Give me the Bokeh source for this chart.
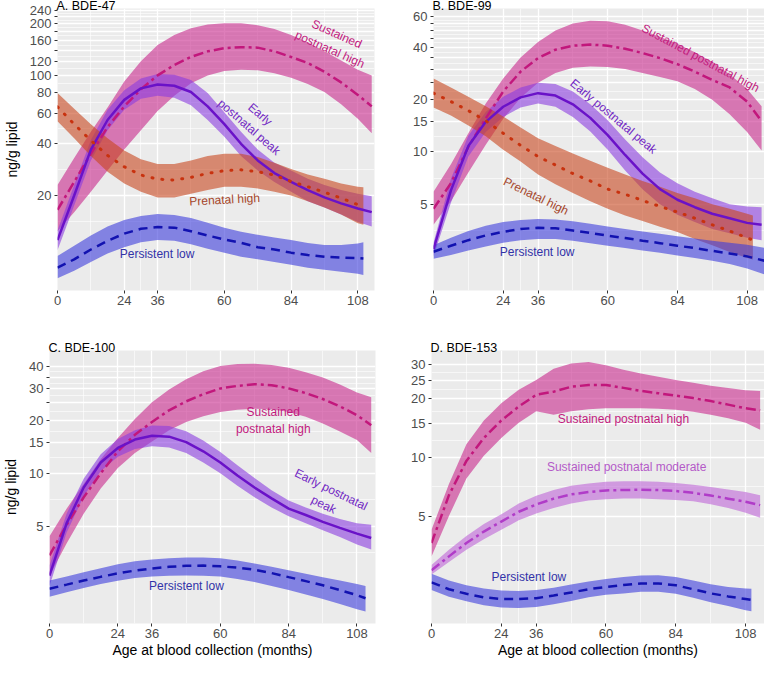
import math
from bokeh.plotting import figure
from bokeh.models import FixedTicker, Range1d
from bokeh.layouts import column, row
from bokeh.core.properties import value
from bokeh.embed import file_html
from bokeh.resources import INLINE

FONT = "Liberation Sans"
MONTHS = [0, 6, 12, 18, 24, 30, 36, 42, 48, 54, 60, 66, 72, 78, 84, 90, 96, 102, 108]
X_TICKS = [0, 24, 36, 60, 84, 108]

# ---------------- Panel A: BDE-47 ----------------
A_HIGH_END = 113
A_high_mid = [16.5, 24, 35, 50, 66, 83, 100, 115, 128, 138, 144, 146, 145, 138, 128, 118, 105, 91, 77, 66]
A_high_hi = [23, 33, 47, 65, 92, 121, 150, 172, 188, 198, 201, 201, 196, 186, 172, 156, 138, 122, 108, 100]
A_high_lo = [12.4, 16, 21, 28, 37, 48, 62, 76, 90, 100, 106, 108, 107, 103, 97, 89, 80, 68, 56, 46]
A_EARLY_END = 113
A_early_mid = [11, 20, 37, 55, 72, 84, 88.5, 87, 80, 66, 52, 40, 32, 27, 24, 21.5, 19.5, 18, 16.8, 16]
A_early_hi = [12.5, 23, 42, 63, 82, 96, 102, 101, 94, 79, 61, 47, 37, 31, 28, 25, 23, 21.5, 20.5, 19.8]
A_early_lo = [9.6, 17.5, 32, 48, 63, 73, 76, 74, 67, 55, 44, 34, 28, 24, 21, 18.5, 17, 15.5, 14, 13.2]
A_PRE_END = 110
A_pre_mid = [65.6, 52, 41.8, 34.2, 29.4, 26.3, 24.9, 24.6, 25.5, 26.9, 27.9, 28.2, 27.5, 26.3, 24.1, 22.5, 20.9, 19.3, 17.7, 17.2]
A_pre_hi = [79, 64, 52, 43, 36.5, 32.5, 30.5, 30.5, 32, 34, 35, 35, 33.5, 31, 28.5, 26.5, 25, 23.5, 22.5, 22.3]
A_pre_lo = [54, 43, 34, 27.5, 23.5, 21, 19.5, 19.5, 20.5, 21.5, 22.5, 22.5, 22, 21, 20, 18.5, 17, 15.5, 13.8, 13.5]
A_LOW_END = 110
A_low_mid = [7.6, 8.5, 9.7, 10.9, 12.0, 12.8, 13.1, 13.0, 12.4, 11.7, 11.1, 10.6, 10.0, 9.7, 9.3, 9.0, 8.8, 8.7, 8.65, 8.6]
A_low_hi = [8.9, 10.2, 11.7, 13.2, 14.4, 15.2, 15.6, 15.4, 14.8, 13.9, 13.0, 12.3, 11.8, 11.4, 11.0, 10.6, 10.3, 10.3, 10.5, 10.7]
A_low_lo = [6.6, 7.3, 8.2, 9.2, 10.0, 10.7, 11.0, 10.9, 10.4, 9.8, 9.3, 8.8, 8.5, 8.2, 7.9, 7.6, 7.4, 7.2, 7.0, 6.9]
A_Y_BREAKS = [20, 40, 60, 80, 100, 120, 140, 160, 180, 200, 220, 240]
A_Y_SHOWN = [20, 40, 60, 80, 100, 120, 160, 200, 240]

# ---------------- Panel B: BDE-99 ----------------
B_HIGH_END = 113
B_high_mid = [4.7, 6.6, 10.7, 15.6, 22.3, 29, 34.7, 38.8, 40.9, 41.5, 40.9, 39.3, 37.1, 34.7, 32, 29, 26, 23.5, 19.5, 15]
B_high_hi = [5.9, 8.5, 12.8, 19, 26.5, 35, 43, 50, 55, 57, 56.5, 54, 50, 46, 42, 37.5, 33, 28, 23, 18.3]
B_high_lo = [3.8, 5.2, 7.6, 11, 15.5, 20.5, 25, 28.5, 30.5, 31, 30.8, 30, 28.5, 27, 25.5, 23, 20, 16.5, 13, 10.2]
B_EARLY_END = 113
B_early_mid = [2.75, 6.0, 10.8, 14.9, 18.2, 20.6, 21.8, 21.1, 18.8, 15.7, 12.5, 9.6, 7.5, 6.1, 5.3, 4.8, 4.4, 4.15, 3.9, 3.8]
B_early_hi = [3.0, 7.0, 12.4, 17, 20.8, 23.5, 25, 24.6, 22.3, 18.8, 15.2, 11.8, 9.3, 7.6, 6.6, 5.9, 5.4, 5.0, 4.85, 4.8]
B_early_lo = [2.5, 5.1, 9.4, 13, 15.9, 18, 19, 18.2, 15.9, 13.1, 10.3, 7.8, 6.1, 5.0, 4.35, 3.95, 3.6, 3.4, 3.2, 3.1]
B_PRE_END = 110
B_pre_mid = [21.8, 19.5, 17.3, 15.1, 12.8, 10.9, 9.4, 8.4, 7.5, 6.8, 6.1, 5.7, 5.25, 4.85, 4.5, 4.15, 3.8, 3.5, 3.2, 3.1]
B_pre_hi = [26.5, 23.5, 20.8, 18.3, 16, 13.8, 12, 10.8, 9.8, 8.9, 8.1, 7.4, 6.8, 6.3, 5.8, 5.4, 5.0, 4.7, 4.4, 4.3]
B_pre_lo = [18, 16.2, 14.2, 12.3, 10.3, 8.8, 7.4, 6.5, 5.8, 5.2, 4.7, 4.3, 4.0, 3.7, 3.45, 3.15, 2.9, 2.65, 2.45, 2.4]
B_LOW_END = 114
B_low_mid = [2.66, 2.88, 3.1, 3.3, 3.46, 3.6, 3.65, 3.63, 3.52, 3.41, 3.29, 3.19, 3.08, 2.98, 2.88, 2.79, 2.69, 2.6, 2.5, 2.36]
B_low_hi = [2.9, 3.2, 3.5, 3.75, 3.95, 4.05, 4.1, 4.08, 3.98, 3.85, 3.72, 3.6, 3.48, 3.37, 3.27, 3.17, 3.08, 3.0, 2.92, 2.8]
B_low_lo = [2.42, 2.55, 2.7, 2.85, 3.0, 3.1, 3.15, 3.15, 3.08, 2.98, 2.88, 2.79, 2.7, 2.62, 2.53, 2.45, 2.36, 2.26, 2.13, 1.97]
B_Y_BREAKS = [5, 10, 15, 20, 25, 30, 35, 40, 45, 50, 55, 60]
B_Y_SHOWN = [5, 10, 15, 20, 40, 60]

# ---------------- Panel C: BDE-100 ----------------
C_HIGH_END = 113
C_high_mid = [3.43, 5.1, 7.3, 10, 13.3, 16.5, 19.5, 22.7, 25.5, 28, 30.2, 31.2, 31.9, 31.5, 30.2, 28.4, 26.3, 23.9, 21.3, 18.7]
C_high_hi = [4.4, 6.3, 8.7, 12, 15.8, 20.3, 25.2, 29.8, 34, 37.8, 40.4, 41.5, 41.7, 41, 39.5, 37.3, 34.8, 31.8, 28.6, 26.9]
C_high_lo = [2.63, 4.0, 5.9, 8.2, 10.7, 13, 15.1, 17.5, 19.5, 21, 22.2, 22.9, 23.2, 23.0, 22.2, 20.9, 19.1, 17.2, 15.4, 13.0]
C_EARLY_END = 113
C_early_mid = [2.63, 5.2, 8.3, 11.5, 13.9, 15.5, 16.3, 16.1, 15, 13.3, 11.5, 9.7, 8.3, 7.2, 6.3, 5.8, 5.3, 4.9, 4.55, 4.3]
C_early_hi = [3.0, 5.9, 9.3, 12.8, 15.6, 17.5, 18.6, 18.5, 17.3, 15.3, 13.2, 11.1, 9.4, 8.0, 7.0, 6.4, 5.9, 5.5, 5.2, 5.1]
C_early_lo = [2.3, 4.6, 7.4, 10.3, 12.4, 13.7, 14.2, 14.0, 13.0, 11.5, 10.0, 8.5, 7.3, 6.4, 5.7, 5.2, 4.75, 4.35, 3.95, 3.7]
C_LOW_END = 111
C_low_mid = [2.22, 2.34, 2.47, 2.59, 2.71, 2.81, 2.89, 2.95, 2.99, 3.0, 2.97, 2.92, 2.84, 2.72, 2.58, 2.45, 2.32, 2.18, 2.04, 1.96]
C_low_hi = [2.47, 2.6, 2.75, 2.9, 3.05, 3.17, 3.25, 3.3, 3.33, 3.33, 3.3, 3.2, 3.08, 2.95, 2.82, 2.7, 2.58, 2.47, 2.36, 2.3]
C_low_lo = [2.0, 2.12, 2.24, 2.36, 2.46, 2.55, 2.6, 2.63, 2.64, 2.63, 2.6, 2.52, 2.42, 2.3, 2.18, 2.06, 1.94, 1.82, 1.7, 1.65]
C_Y_BREAKS = [5, 10, 15, 20, 25, 30, 35, 40]
C_Y_SHOWN = [5, 10, 15, 20, 30, 40]

# ---------------- Panel D: BDE-153 ----------------
D_HIGH_END = 113
D_high_mid = [3.63, 6.4, 9.6, 12.6, 15.5, 18.3, 21, 21.8, 23.1, 23.6, 23.6, 22.8, 22, 21.4, 20.8, 20.2, 19.5, 18.7, 17.9, 17.5]
D_high_hi = [4.25, 7.3, 11.7, 15.5, 19, 22.3, 25, 28.6, 30.4, 31, 29.8, 28.3, 27, 26, 25, 24.2, 23.4, 22.8, 22.2, 22]
D_high_lo = [3.1, 5.0, 7.8, 10.2, 12.6, 15.1, 17.3, 16.6, 17.3, 17.7, 17.9, 17.9, 17.9, 17.8, 17.6, 17.2, 16.6, 15.9, 15.1, 13.9]
D_MOD_END = 113
D_mod_mid = [2.63, 3.1, 3.63, 4.16, 4.68, 5.26, 5.73, 6.14, 6.46, 6.64, 6.77, 6.8, 6.83, 6.8, 6.72, 6.58, 6.37, 6.14, 5.92, 5.69]
D_mod_hi = [2.8, 3.35, 3.95, 4.55, 5.1, 5.8, 6.35, 6.8, 7.15, 7.35, 7.5, 7.55, 7.55, 7.5, 7.4, 7.25, 7.05, 6.85, 6.65, 6.4]
D_mod_lo = [2.5, 2.9, 3.35, 3.8, 4.25, 4.75, 5.15, 5.5, 5.8, 6.0, 6.1, 6.15, 6.15, 6.1, 6.05, 5.95, 5.75, 5.5, 5.2, 4.9]
D_LOW_END = 110
D_low_mid = [2.28, 2.1, 1.99, 1.91, 1.87, 1.87, 1.89, 1.95, 2.02, 2.1, 2.16, 2.21, 2.25, 2.25, 2.2, 2.1, 2.0, 1.93, 1.87, 1.85]
D_low_hi = [2.52, 2.33, 2.2, 2.12, 2.07, 2.06, 2.08, 2.14, 2.22, 2.3, 2.37, 2.43, 2.47, 2.48, 2.43, 2.33, 2.23, 2.16, 2.12, 2.11]
D_low_lo = [2.08, 1.92, 1.82, 1.74, 1.69, 1.68, 1.7, 1.76, 1.83, 1.91, 1.97, 2.0, 2.04, 2.04, 1.99, 1.9, 1.8, 1.72, 1.64, 1.62]
D_Y_BREAKS = [5, 10, 15, 20, 25, 30]
D_Y_SHOWN = [5, 10, 15, 20, 25, 30]

STYLES = {
    "high": dict(line="#C2177C", fill="#C8288C", dash="10 4 3 4", width=2.5, label="#C21A7E"),
    "early": dict(line="#6A12C8", fill="#8A3CE0", dash="solid", width=2.5, label="#7228C4"),
    "pre": dict(line="#C8320F", fill="#C8461E", dash="1 9", width=3, label="#A5462A"),
    "low": dict(line="#1212B0", fill="#3C3CDC", dash="9 6", width=2.5, label="#3232A8"),
    "mod": dict(line="#B03CC8", fill="#BE64D7", dash="10 4 3 4", width=2.5, label="#B45AC8"),
}


def log_minor(breaks):
    lb = [math.log10(b) for b in breaks]
    bd = lb[1] - lb[0]
    ext = [lb[0] - bd] + lb + [lb[-1] + bd]
    return [10 ** ((a + b) / 2) for a, b in zip(ext[:-1], ext[1:])]


def lin_minor(breaks):
    return [(a + b) / 2 for a, b in zip(breaks[:-1], breaks[1:])]


def make_panel(title, series, y_range, ybreaks, yshown, x_max, size, borders,
               notes, xlabel=None, ylabel=None, ylabel_standoff=7):
    w, h = size
    bl, br, bt, bb = borders
    p = figure(width=w, height=h, x_range=Range1d(0, x_max), y_range=Range1d(*y_range),
               y_axis_type="log", output_backend="svg", toolbar_location=None,
               min_border_left=bl, min_border_right=br, min_border_top=bt,
               min_border_bottom=bb, title=title)
    p.title.text_font = FONT
    p.title.text_font_size = "12.5px"
    p.title.text_font_style = "normal"
    p.title.text_color = "black"
    p.title.align = "left"
    p.title.standoff = -8
    p.title.offset = -1
    p.background_fill_color = "#EBEBEB"
    p.border_fill_color = "white"
    p.outline_line_color = None

    xt = FixedTicker(ticks=X_TICKS, minor_ticks=lin_minor(X_TICKS))
    yt = FixedTicker(ticks=ybreaks, minor_ticks=log_minor(ybreaks))
    p.xaxis.ticker = xt
    p.yaxis.ticker = yt
    p.xgrid.ticker = xt
    p.ygrid.ticker = yt
    for g in (p.xgrid, p.ygrid):
        g.grid_line_color = "white"
        g.grid_line_width = 1.3
        g.minor_grid_line_color = "white"
        g.minor_grid_line_width = 0.6
    p.xaxis.major_label_overrides = {t: str(t) for t in X_TICKS}
    p.yaxis.major_label_overrides = {t: (str(t) if t in yshown else "") for t in ybreaks}
    for ax in (p.xaxis, p.yaxis):
        ax.axis_line_color = None
        ax.major_tick_line_color = "#333333"
        ax.major_tick_line_width = 1
        ax.major_tick_in = 0
        ax.major_tick_out = 3
        ax.minor_tick_line_color = None
        ax.major_label_text_font = FONT
        ax.major_label_text_font_size = "13px"
        ax.major_label_text_color = "#4D4D4D"
        ax.major_label_standoff = 2
        ax.axis_label_text_font = FONT
        ax.axis_label_text_font_size = "14px"
        ax.axis_label_text_font_style = "normal"
        ax.axis_label_text_color = "black"
    p.xaxis.major_label_standoff = 1
    if xlabel:
        p.xaxis.axis_label = xlabel
        p.xaxis.axis_label_standoff = 1
    if ylabel:
        p.yaxis.axis_label = ylabel
        p.yaxis.axis_label_standoff = ylabel_standoff

    for key, end, mid, hi, lo in series:
        st = STYLES[key]
        p.varea(x=MONTHS + [end], y1=lo, y2=hi, fill_color=st["fill"], fill_alpha=0.6)
    for key, end, mid, hi, lo in series:
        st = STYLES[key]
        p.line(x=MONTHS + [end], y=mid, line_color=st["line"], line_width=st["width"],
               line_dash=st["dash"], line_cap="round" if key == "pre" else "butt")

    for text, nx, ny, ang, key in notes:
        p.text(x=[nx], y=[ny], text=[text], angle=math.radians(ang),
               text_font=value(FONT), text_font_size="12px",
               text_color=STYLES[key]["label"], text_align="center",
               text_baseline="middle", text_line_height=1.2)
    return p


pA = make_panel(
    "A. BDE-47",
    [("high", A_HIGH_END, A_high_mid, A_high_hi, A_high_lo),
     ("early", A_EARLY_END, A_early_mid, A_early_hi, A_early_lo),
     ("pre", A_PRE_END, A_pre_mid, A_pre_hi, A_pre_lo),
     ("low", A_LOW_END, A_low_mid, A_low_hi, A_low_lo)],
    (5.6, 245), A_Y_BREAKS, A_Y_SHOWN, 114, (386, 312), (51, 12, 0, 22),
    [("Sustained\npostnatal high", 99.2, 157, -24, "high"),
     ("Early\npostnatal peak", 70.9, 54.5, -41, "early"),
     ("Prenatal high", 60.1, 18.9, 3, "pre"),
     ("Persistent low", 35.8, 9.1, 0, "low")],
    ylabel="ng/g lipid", ylabel_standoff=7)

pB = make_panel(
    "B. BDE-99",
    [("high", B_HIGH_END, B_high_mid, B_high_hi, B_high_lo),
     ("early", B_EARLY_END, B_early_mid, B_early_hi, B_early_lo),
     ("pre", B_PRE_END, B_pre_mid, B_pre_hi, B_pre_lo),
     ("low", B_LOW_END, B_low_mid, B_low_hi, B_low_lo)],
    (1.59, 67), B_Y_BREAKS, B_Y_SHOWN, 114, (378, 312), (47, 0, 0, 22),
    [("Sustained postnatal high", 92, 34.7, -28, "high"),
     ("Early postnatal peak", 62, 16.0, -40, "early"),
     ("Prenatal high", 35.3, 5.56, -26, "pre"),
     ("Persistent low", 35.7, 2.66, 0, "low")])

pC = make_panel(
    "C. BDE-100",
    [("high", C_HIGH_END, C_high_mid, C_high_hi, C_high_lo),
     ("early", C_EARLY_END, C_early_mid, C_early_hi, C_early_lo),
     ("low", C_LOW_END, C_low_mid, C_low_hi, C_low_lo)],
    (1.41, 49.5), C_Y_BREAKS, C_Y_SHOWN, 114.5, (386, 348), (43, 11, 37, 36),
    [("Sustained\npostnatal high", 78.6, 19.95, 0, "high"),
     ("Early postnatal\npeak", 97.6, 7.32, -26, "early"),
     ("Persistent low", 48.1, 2.3, 0, "low")],
    xlabel="Age at blood collection (months)", ylabel="ng/g lipid", ylabel_standoff=7)

pD = make_panel(
    "D. BDE-153",
    [("high", D_HIGH_END, D_high_mid, D_high_hi, D_high_lo),
     ("mod", D_MOD_END, D_mod_mid, D_mod_hi, D_mod_lo),
     ("low", D_LOW_END, D_low_mid, D_low_hi, D_low_lo)],
    (1.4, 35.5), D_Y_BREAKS, D_Y_SHOWN, 114.5, (378, 348), (45, 0, 38, 36),
    [("Sustained postnatal high", 66, 15.8, 0, "high"),
     ("Sustained postnatal moderate", 67.1, 8.97, 0, "mod"),
     ("Persistent low", 33.5, 2.42, 0, "low")],
    xlabel="Age at blood collection (months)")

layout = column(row(pA, pB), row(pC, pD))
open("out.html", "w").write(file_html(layout, INLINE))
